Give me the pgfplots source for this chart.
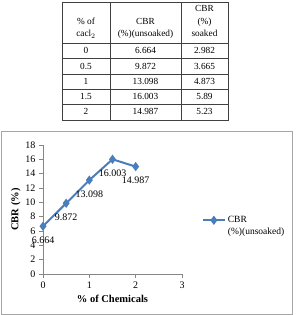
\documentclass[border=0pt]{standalone}
\usepackage{pgfplots}
\pgfplotsset{compat=1.18}
\usepackage{fontspec}
\setmainfont{Liberation Serif}
\definecolor{xlblue}{RGB}{74,126,187}
\definecolor{axgray}{RGB}{134,134,134}
\begin{document}
\begin{tikzpicture}[x=1pt,y=1pt]
\path[use as bounding box] (0,0) rectangle (295,315);
% ---- table ----
\begin{scope}[line width=0.6pt]
\draw[black!75] (62,312.3) rectangle (228,195);
\foreach \xx in {110,181} \draw[black!75] (\xx,312.3) -- (\xx,195);
\foreach \yy in {271.7,256.7,241,225.7,210.3} \draw[black!75] (62,\yy) -- (228,\yy);
\end{scope}
\begin{scope}[every node/.style={anchor=base,inner sep=0pt,font=\fontsize{9.3}{11}\selectfont}]
\node at (86,290.3) {\% of};
\node at (86,278) {cacl$_2$};
\node at (145.5,290.3) {CBR};
\node at (145.5,278) {(\%)(unsoaked)};
\node at (204.5,303.7) {CBR};
\node at (204.5,290.3) {(\%)};
\node at (204.5,278) {soaked};
\foreach \a/\b/\c [count=\i from 0] in {0/6.664/2.982,0.5/9.872/3.665,1/13.098/4.873,1.5/16.003/5.89,2/14.987/5.23}{
  \pgfmathsetmacro\yy{264.2-15.3*\i-3}
  \node at (86,\yy) {\a};
  \node at (145.5,\yy) {\b};
  \node at (204.5,\yy) {\c};
}
\end{scope}
% ---- chart frame ----
\draw[black!35, line width=0.6pt] (1,1) rectangle (292,184);
\begin{axis}[
  at={(43pt,41pt)}, anchor=south west,
  scale only axis, width=139pt, height=129pt,
  xmin=0, xmax=3, ymin=0, ymax=18,
  xtick={0,1,2,3}, ytick={0,2,...,18},
  axis x line=bottom, axis y line=left,
  axis line style={draw=axgray, -, line width=0.6pt},
  tick style={draw=axgray, line width=0.6pt},
  tick align=outside, major tick length=4pt,
  ticklabel style={font=\fontsize{10}{12}\selectfont},
  /pgf/number format/assume math mode=true,
  xlabel={\textbf{\% of Chemicals}},
  ylabel={\textbf{CBR (\%)}},
  label style={font=\fontsize{10.5}{12}\selectfont},
  xlabel style={yshift=0pt},
  ylabel style={yshift=-2pt},
  clip=false,
  legend style={draw=none, fill=none, at={(1.12,0.37)}, anchor=west,
     font=\fontsize{9.5}{12}\selectfont, cells={align=left}},
  legend image code/.code={\draw[mark repeat=2,mark phase=2] plot coordinates {(0pt,6pt) (11pt,6pt) (22pt,6pt)};},
]
\addplot[xlblue, line width=2pt, mark=diamond*, mark size=3pt, mark options={solid},
  point meta=explicit symbolic, nodes near coords,
  every node near coord/.append style={anchor=center, yshift=-14pt, black, font=\fontsize{10}{12}\selectfont}]
  table[meta=label] {
x y label
0 6.664 6.664
0.5 9.872 9.872
1 13.098 13.098
1.5 16.003 16.003
2 14.987 14.987
};
\addlegendentry{CBR\\(\%)(unsoaked)}
\end{axis}
\end{tikzpicture}
\end{document}
